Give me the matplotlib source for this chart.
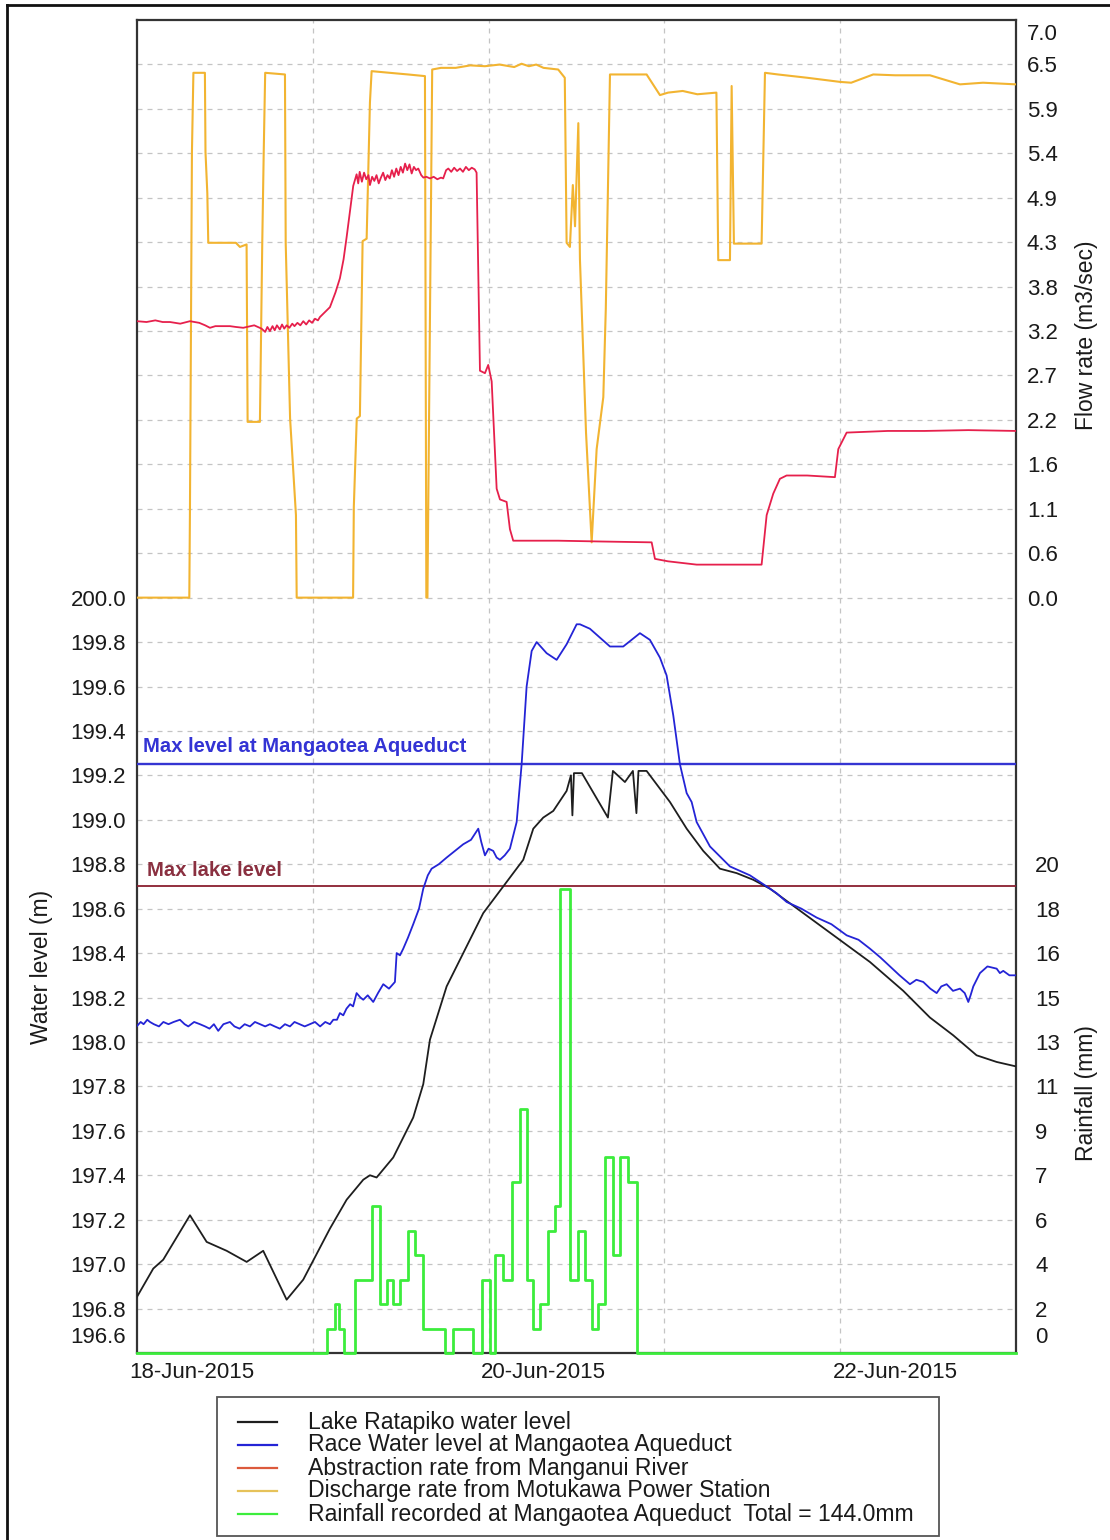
import numpy as np
import matplotlib
matplotlib.use('Agg')
import matplotlib.pyplot as plt
from matplotlib.lines import Line2D
from matplotlib.patches import Rectangle

plt.rcParams['font.family'] = ['Liberation Sans', 'DejaVu Sans']

# ---------------- data (time = hours since 18-Jun-2015 00:00) ----------------
lake_t = [-7.55, -5.28, -3.92, -0.27, 2.01, 4.74, 7.47, 9.73, 12.93, 15.19, 18.84, 21.12,
          23.39, 24.3, 25.21, 27.48, 30.21, 31.58, 32.49, 34.77, 37.04, 39.77, 42.5, 45.23,
          46.6, 47.96, 49.33, 51.15, 51.74, 51.94, 52.15, 53.24, 56.79, 57.47, 59.11, 60.2,
          60.68, 60.96, 62.07, 65.26, 67.54, 69.8, 72.08, 74.36, 76.63, 78.91, 83.46, 88.01,
          92.56, 97.11, 100.75, 103.93, 107.12, 109.86, 112.5]
lake_v = [196.85, 196.98, 197.02, 197.22, 197.10, 197.06, 197.01, 197.06, 196.84, 196.93, 197.16, 197.29,
          197.38, 197.40, 197.39, 197.48, 197.66, 197.81, 198.01, 198.25, 198.40, 198.58, 198.70, 198.82,
          198.96, 199.01, 199.04, 199.13, 199.20, 199.02, 199.21, 199.21, 199.01, 199.22, 199.17, 199.22,
          199.03, 199.22, 199.22, 199.08, 198.96, 198.86, 198.78, 198.76, 198.73, 198.69, 198.58, 198.47,
          198.36, 198.23, 198.11, 198.03, 197.94, 197.91, 197.89]

race_t = [-7.55, -7.0, -6.6, -6.1, -5.73, -5.2, -4.5, -3.9, -3.2, -2.5, -1.64, -1.0, -0.5, 0.3, 1.09,
          1.8, 2.4, 3.0, 3.59, 4.3, 5.19, 5.8, 6.5, 7.2, 7.92, 8.6, 9.3, 10.0, 10.65, 11.3,
          12.0, 12.7, 13.38, 14.0, 14.7, 15.4, 16.11, 16.8, 17.5, 18.2, 18.84, 19.3, 19.8, 20.2,
          20.66, 21.1, 21.6, 22.0, 22.48, 23.0, 23.39, 24.0, 24.75, 25.4, 26.12, 26.9,
          27.71, 27.95, 28.4, 28.85, 29.5, 30.21, 31.0, 31.58, 32.2, 32.72, 33.7, 34.77, 35.9, 37.04,
          38.1, 39.09, 39.5, 40.0, 40.5, 41.13, 41.6, 42.05, 42.7, 43.41,
          44.33, 45.01, 45.69, 46.38, 47.06, 48.42, 49.79, 51.15, 52.52, 52.97, 54.33, 57.07, 58.88,
          61.16, 62.52, 63.89, 64.8, 65.71, 66.62, 67.54, 68.22, 68.9, 70.72, 73.45, 76.18, 78.46,
          79.8, 81.19, 83.2, 85.28, 87.3, 89.38, 91.0, 92.56, 94.0, 95.29, 96.6, 98.02, 98.9, 99.84,
          100.8, 101.67, 102.3, 103.03, 103.9, 104.85, 105.5, 105.99, 106.3, 106.67,
          107.58, 108.6, 109.86, 110.3, 110.76, 111.6, 112.5]
race_v = [198.07, 198.09, 198.08, 198.10, 198.09, 198.08, 198.07, 198.09, 198.08, 198.09, 198.10, 198.08, 198.07, 198.09, 198.08,
          198.07, 198.06, 198.08, 198.05, 198.08, 198.09, 198.07, 198.06, 198.08, 198.07, 198.09, 198.08, 198.07, 198.08, 198.07,
          198.06, 198.08, 198.07, 198.09, 198.08, 198.07, 198.08, 198.09, 198.07, 198.09, 198.08, 198.10, 198.10, 198.13,
          198.12, 198.15, 198.17, 198.16, 198.22, 198.20, 198.19, 198.21, 198.18, 198.22, 198.26, 198.24,
          198.27, 198.40, 198.39, 198.42, 198.47, 198.53, 198.60, 198.69, 198.75, 198.78, 198.80, 198.83, 198.86, 198.89,
          198.91, 198.96, 198.90, 198.84, 198.87, 198.86, 198.83, 198.82, 198.84, 198.87,
          198.99, 199.25, 199.60, 199.76, 199.80, 199.75, 199.72, 199.79, 199.88, 199.88, 199.86, 199.78, 199.78,
          199.84, 199.81, 199.73, 199.65, 199.47, 199.25, 199.12, 199.08, 198.99, 198.88, 198.79, 198.75, 198.70,
          198.67, 198.63, 198.60, 198.56, 198.53, 198.48, 198.46, 198.42, 198.38, 198.34, 198.30, 198.26, 198.28, 198.27,
          198.24, 198.22, 198.25, 198.26, 198.23, 198.24, 198.22, 198.18, 198.21, 198.25,
          198.31, 198.34, 198.33, 198.31, 198.32, 198.30, 198.30]

abs_t = [-7.5, -6.2, -5.0, -4.0, -3.0, -1.6, -0.27, 1.0, 1.8, 2.46, 3.2, 4.0, 5.19, 6.0, 7.0, 8.5,
         9.5, 10.0, 10.3, 10.65, 11.0, 11.3, 11.6, 12.0, 12.3, 12.6, 12.93, 13.3, 13.7, 14.0, 14.4,
         14.8, 15.2, 15.6, 16.0, 16.4, 16.8, 17.2, 17.47, 18.84, 19.6, 20.2, 20.7, 21.12, 21.6, 22.02,
         22.48, 22.7, 22.9, 23.2, 23.5, 23.8, 24.1, 24.3, 24.6, 24.9, 25.2, 25.5, 25.8, 26.1, 26.4,
         26.7, 27.0, 27.3, 27.6, 27.9, 28.2, 28.5, 28.8, 29.1, 29.4, 29.7, 30.0, 30.3, 30.6, 30.9,
         31.3, 31.6, 32.0, 32.5, 33.0, 33.5, 34.0, 34.3, 34.7, 35.0, 35.4, 35.8, 36.2, 36.6, 37.0,
         37.4, 37.8, 38.2, 38.6, 38.86, 39.32, 40.0, 40.45, 40.92, 41.6, 42.05, 42.96, 43.41, 43.86,
         50.0, 56.0, 62.76, 63.21, 65.0, 68.9, 77.77, 78.46, 79.36, 80.27, 81.18, 84.0, 87.78, 88.24,
         89.38, 95.0, 100.0, 106.0, 112.5]
abs_v = [3.35, 3.34, 3.36, 3.34, 3.34, 3.32, 3.35, 3.33, 3.30, 3.27, 3.29, 3.29, 3.29, 3.28, 3.27, 3.30,
         3.26, 3.22, 3.28, 3.23, 3.29, 3.24, 3.30, 3.25, 3.31, 3.26, 3.30, 3.27, 3.32, 3.29, 3.33,
         3.30, 3.35, 3.31, 3.36, 3.33, 3.38, 3.36, 3.40, 3.52, 3.70, 3.87, 4.10, 4.37, 4.70, 4.99,
         5.13, 5.02, 5.16, 5.04, 5.15, 5.07, 5.12, 5.00, 5.10, 5.05, 5.12, 5.02, 5.09, 5.15, 5.06,
         5.12, 5.08, 5.18, 5.10, 5.20, 5.12, 5.22, 5.15, 5.26, 5.18, 5.25, 5.14, 5.22, 5.18, 5.20,
         5.12, 5.09, 5.10, 5.08, 5.10, 5.07, 5.09, 5.08, 5.18, 5.20, 5.16, 5.21, 5.17, 5.20, 5.16,
         5.22, 5.18, 5.21, 5.19, 5.15, 2.75, 2.72, 2.82, 2.62, 1.32, 1.19, 1.16, 0.83, 0.69,
         0.69, 0.68, 0.67, 0.47, 0.44, 0.40, 0.40, 1.00, 1.26, 1.44, 1.48, 1.48, 1.46, 1.80,
         2.00, 2.02, 2.02, 2.03, 2.02]

dis_t = [-7.5, -0.36, -0.27, 0.0, 0.2, 1.77, 1.85, 2.1, 2.23, 6.0, 6.55, 7.46, 7.6, 9.28, 9.6, 9.8,
         10.0, 12.7, 12.8, 13.4, 14.2, 14.3, 22.0, 22.1, 22.5, 22.93, 23.3, 23.85, 24.3, 24.53, 27.0,
         29.5, 31.81, 32.0, 32.15, 32.8, 34.0, 36.0, 38.0, 40.0, 42.0, 44.0, 45.0, 46.0, 47.0, 48.0,
         50.0, 50.9, 51.15, 51.6, 52.0, 52.3, 52.75, 52.97, 53.8, 54.57, 55.25, 56.16, 56.5, 57.07,
         62.07, 63.89, 65.0, 67.0, 69.0, 71.6, 71.85, 73.45, 73.68, 73.99, 77.77, 78.23, 80.0, 84.0,
         88.47, 90.0, 93.01, 96.0, 100.75, 104.85, 108.0, 112.5]
dis_v = [0.0, 0.0, 1.07, 5.40, 6.36, 6.36, 5.40, 4.90, 4.30, 4.30, 4.25, 4.28, 2.13, 2.13, 4.30, 5.40,
         6.36, 6.34, 4.30, 2.17, 1.00, 0.0, 0.0, 1.10, 2.17, 2.20, 4.32, 4.35, 6.00, 6.38, 6.36,
         6.34, 6.32, 0.0, 0.0, 6.40, 6.42, 6.42, 6.45, 6.44, 6.46, 6.43, 6.47, 6.44, 6.46, 6.42,
         6.40, 6.30, 4.30, 4.25, 5.00, 4.50, 5.75, 4.10, 2.00, 0.67, 1.80, 2.43, 3.50, 6.34,
         6.34, 6.09, 6.12, 6.14, 6.10, 6.12, 4.09, 4.09, 6.20, 4.29, 4.29, 6.36, 6.34, 6.30,
         6.25, 6.24, 6.34, 6.33, 6.33, 6.22, 6.24, 6.22]

rain_t = [-7.5, 18.39, 19.52, 20.14, 20.75, 22.25, 24.53, 25.67, 26.58, 27.48, 28.4, 29.53, 30.44,
          31.58, 34.54, 35.67, 38.4, 39.55, 40.68, 41.37, 42.5, 43.64, 44.78, 45.69, 46.6, 47.51,
          48.64, 49.56, 50.24, 51.6, 52.74, 53.65, 54.57, 55.5, 56.38, 57.52, 58.43, 59.56, 60.71, 112.5]
rain_v = [0, 1, 2, 1, 0, 3, 6, 2, 3, 2, 3, 5, 4,
          1, 0, 1, 0, 3, 0, 4, 3, 7, 10, 3, 1, 2,
          5, 6, 19, 3, 5, 3, 1, 2, 8, 4, 8, 7, 0, 0]

date_ticks = [0, 48, 96]
date_labels = ['18-Jun-2015', '20-Jun-2015', '22-Jun-2015']
day_grid = [16.5, 40.5, 64.5, 88.5]
level_labels = ['196.8', '197.0', '197.2', '197.4', '197.6', '197.8', '198.0', '198.2',
                '198.4', '198.6', '198.8', '199.0', '199.2', '199.4', '199.6', '199.8', '200.0']
flow_labels = ['0.0', '0.6', '1.1', '1.6', '2.2', '2.7', '3.2', '3.8', '4.3', '4.9', '5.4',
               '5.9', '6.5', '7.0']
rain_labels = ['0', '2', '4', '6', '7', '9', '11', '13', '15', '16', '18', '20']
max_race_level = 199.25
max_lake_level = 198.70

legend_labels = ['Lake Ratapiko water level',
                 'Race Water level at Mangaotea Aqueduct',
                 'Abstraction rate from Manganui River',
                 'Discharge rate from Motukawa Power Station',
                 'Rainfall recorded at Mangaotea Aqueduct  Total = 144.0mm']

# ---------------- styling ----------------
W, H = 1110, 1540
C_LAKE = '#1e1e1e'
C_RACE = '#2424d6'
C_ABS = '#e6204c'
C_DIS = '#f2b431'
C_RAIN = '#3ced3c'
TXT = '#1a1a1a'
FS = 16


def fx(x):
    return x / W


def fy(y):
    return 1 - y / H


fig = plt.figure(figsize=(W / 100, H / 100), dpi=100)
ax = fig.add_axes([fx(137), fy(1353), (1016 - 137) / W, (1353 - 20) / H])
ax.set_xlim(-7.5, 112.5)
ax.set_ylim(196.6, 202.6)

# grid
grid_levels = np.round(np.arange(196.8, 202.41, 0.2), 1)
ax.set_yticks(grid_levels)
ax.set_yticklabels([level_labels[i] if i < len(level_labels) else '' for i in range(len(grid_levels))])
ax.set_xticks(date_ticks)
ax.set_xticklabels(date_labels)
ax.set_xticks(day_grid, minor=True)
ax.grid(axis='y', which='major', color='#c4c4c4', lw=0.9, ls=(0, (4, 4)))
ax.grid(axis='x', which='minor', color='#c4c4c4', lw=0.9, ls=(0, (4, 4)))
ax.tick_params(axis='both', which='both', length=0, labelsize=FS, labelcolor=TXT)
ax.tick_params(axis='y', pad=7.9)
ax.tick_params(axis='x', pad=6.5)
for s in ax.spines.values():
    s.set_color('#333333')
    s.set_linewidth(1.6)
ax.annotate('196.6', xy=(0, 196.6), xycoords=('axes fraction', 'data'), xytext=(-7.9, 11.5),
            textcoords='offset points', ha='right', va='center', fontsize=FS, color=TXT)

# water level lines
ax.plot(lake_t, lake_v, color=C_LAKE, lw=1.3, zorder=4)
ax.plot(race_t, race_v, color=C_RACE, lw=1.3, zorder=4)
ax.axhline(max_race_level, color='#3535d2', lw=1.7, zorder=3)
ax.axhline(max_lake_level, color='#8a1f2f', lw=1.3, zorder=3)
ax.text(-6.69, 199.33, 'Max level at Mangaotea Aqueduct', color='#3333d4', fontsize=14.6,
        fontweight='bold', va='center', ha='left')
ax.text(-6.14, 198.77, 'Max lake level', color='#8a3040', fontsize=14.6, fontweight='bold',
        va='center', ha='left')

# flow axis
ax_f = ax.twinx()
ax_f.set_ylim(-17 * 7 / 13, 7.0)
ax_f.set_yticks([k * 7 / 13 for k in range(13)])
ax_f.set_yticklabels(flow_labels[:13])
ax_f.tick_params(axis='y', length=0, pad=7.9, labelsize=FS, labelcolor=TXT)
ax_f.annotate(flow_labels[13], xy=(1, 7.0), xycoords=('axes fraction', 'data'), xytext=(7.9, -10.5),
              textcoords='offset points', ha='left', va='center', fontsize=FS, color=TXT)
for s in ax_f.spines.values():
    s.set_visible(False)
ax_f.plot(dis_t, dis_v, color=C_DIS, lw=1.5, zorder=3)
ax_f.plot(abs_t, abs_v, color=C_ABS, lw=1.3, zorder=4)

# rainfall axis
ax_r = ax.twinx()
ax_r.set_ylim(0, 30 * 20 / 11)
ax_r.set_yticks([k * 20 / 11 for k in range(1, 12)])
ax_r.set_yticklabels(rain_labels[1:])
ax_r.tick_params(axis='y', length=0, pad=13.7, labelsize=FS, labelcolor=TXT)
ax_r.annotate(rain_labels[0], xy=(1, 0), xycoords=('axes fraction', 'data'), xytext=(13.7, 11.5),
              textcoords='offset points', ha='left', va='center', fontsize=FS, color=TXT)
for s in ax_r.spines.values():
    s.set_visible(False)
ax_r.step(rain_t, rain_v, where='post', color=C_RAIN, lw=2.0, zorder=3, clip_on=False)

# axis titles
fig.text(fx(42), fy(967), 'Water level (m)', rotation=90, ha='center', va='center', fontsize=16.5, color=TXT)
fig.text(fx(1087), fy(335), 'Flow rate (m3/sec)', rotation=90, ha='center', va='center', fontsize=16.5, color=TXT)
fig.text(fx(1087), fy(1093), 'Rainfall (mm)', rotation=90, ha='center', va='center', fontsize=16.5, color=TXT)

# legend (drawn manually in figure pixels)
fig.add_artist(Rectangle((fx(217), fy(1536)), (939 - 217) / W, (1536 - 1397) / H,
                         transform=fig.transFigure, fill=False, edgecolor='#555555', lw=1.3))
leg_colors = [C_LAKE, C_RACE, '#dc5a3c', '#e6c25a', C_RAIN]
for i, (lab, col) in enumerate(zip(legend_labels, leg_colors)):
    yy = 1422 + 23 * i
    fig.add_artist(Line2D([fx(238), fx(277)], [fy(yy), fy(yy)], color=col, lw=1.6,
                          transform=fig.transFigure))
    fig.text(fx(308), fy(yy), lab, ha='left', va='center', fontsize=16.6, color=TXT)

# outer frame
fig.add_artist(Line2D([fx(7), fx(7)], [0, fy(5)], color='#111111', lw=2, transform=fig.transFigure))
fig.add_artist(Line2D([fx(7), 1], [fy(5), fy(5)], color='#111111', lw=2, transform=fig.transFigure))

fig.savefig('out.png', dpi=100)
